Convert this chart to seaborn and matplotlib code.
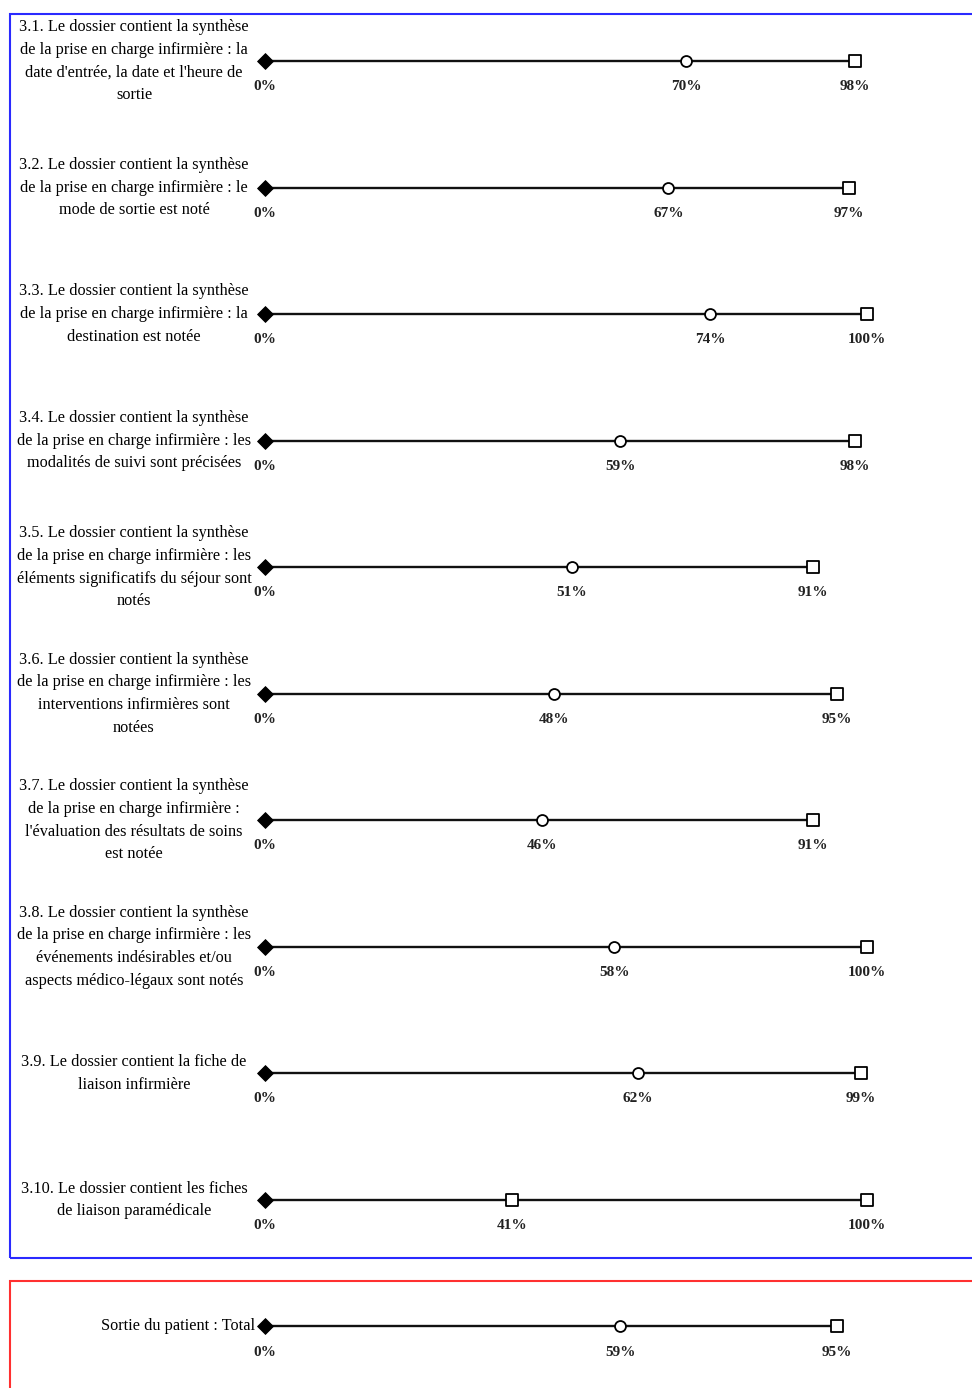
import matplotlib
matplotlib.use("Agg")
import matplotlib.pyplot as plt
import seaborn as sns
import pandas as pd
from matplotlib.patches import Rectangle

labels = [
    "3.1. Le dossier contient la synthèse\nde la prise en charge infirmière : la\ndate d'entrée, la date et l'heure de\nsortie",
    "3.2. Le dossier contient la synthèse\nde la prise en charge infirmière : le\nmode de sortie est noté",
    "3.3. Le dossier contient la synthèse\nde la prise en charge infirmière : la\ndestination est notée",
    "3.4. Le dossier contient la synthèse\nde la prise en charge infirmière : les\nmodalités de suivi sont précisées",
    "3.5. Le dossier contient la synthèse\nde la prise en charge infirmière : les\néléments significatifs du séjour sont\nnotés",
    "3.6. Le dossier contient la synthèse\nde la prise en charge infirmière : les\ninterventions infirmières sont\nnotées",
    "3.7. Le dossier contient la synthèse\nde la prise en charge infirmière :\nl'évaluation des résultats de soins\nest notée",
    "3.8. Le dossier contient la synthèse\nde la prise en charge infirmière : les\névénements indésirables et/ou\naspects médico-légaux sont notés",
    "3.9. Le dossier contient la fiche de\nliaison infirmière",
    "3.10. Le dossier contient les fiches\nde liaison paramédicale",
    "Sortie du patient : Total",
]
min_vals = [0, 0, 0, 0, 0, 0, 0, 0, 0, 0, 0]
mid_vals = [70, 67, 74, 59, 51, 48, 46, 58, 62, 41, 59]
max_vals = [98, 97, 100, 98, 91, 95, 91, 100, 99, 100, 95]
mid_markers = ["o"] * 11
mid_markers[9] = "s"

W, H = 972, 1388
fig = plt.figure(figsize=(W / 100, H / 100), dpi=100)
sns.set_theme(style="white")
plt.rcParams["font.family"] = ["Liberation Serif", "DejaVu Serif"]

ax = fig.add_axes([0, 0, 1, 1])
# pixel mapping: x_px = 265 + 6.02*v ; y_px = 61 + 126.55*i
x0, sx = 265.0, 6.02
y0, sy = 61.0, 126.55
ax.set_xlim(-x0 / sx, (W - x0) / sx)
ax.set_ylim((H - y0) / sy, -y0 / sy)
ax.axis("off")

n = len(labels)
rows = list(range(n))
line_df = pd.DataFrame({
    "row": rows * 2,
    "val": min_vals + max_vals,
})
sns.lineplot(data=line_df, x="val", y="row", units="row", estimator=None,
             color="#111111", linewidth=1.7, sort=False, orient="y", ax=ax, legend=False)

sns.scatterplot(x=min_vals, y=rows, marker="D", s=65, color="black",
                edgecolor="black", ax=ax, zorder=5, legend=False)
mid_size = {"o": 62, "s": 72}
for m in set(mid_markers):
    idx = [i for i in rows if mid_markers[i] == m]
    sns.scatterplot(x=[mid_vals[i] for i in idx], y=idx, marker=m, s=mid_size[m],
                    facecolor="white", edgecolor="black", linewidth=1.3,
                    ax=ax, zorder=5, legend=False)
sns.scatterplot(x=max_vals, y=rows, marker="s", s=80, facecolor="white",
                edgecolor="black", linewidth=1.3, ax=ax, zorder=5, legend=False)

off = 25.5 / sy
for i in rows:
    for v in (min_vals[i], mid_vals[i], max_vals[i]):
        ax.text(v, i + off, f"{v}%", ha="center", va="center", fontsize=11,
                fontweight="bold", color="#222222")
    ax.text((134 - x0) / sx if i < 10 else (255 - x0) / sx, i, labels[i],
            ha="center" if i < 10 else "right", va="center", fontsize=11.7,
            linespacing=1.56, color="#000000")

def px_rect(x, y, w, h, color):
    fig.patches.append(Rectangle((x / W, 1 - (y + h) / H), w / W, h / H,
                                 transform=fig.transFigure, fill=False,
                                 edgecolor=color, linewidth=1.5, figure=fig))

px_rect(10, 14, 975, 1244, "#2a2aff")
px_rect(10, 1281, 975, 130, "#ff3030")

fig.savefig("out.png", dpi=100)
